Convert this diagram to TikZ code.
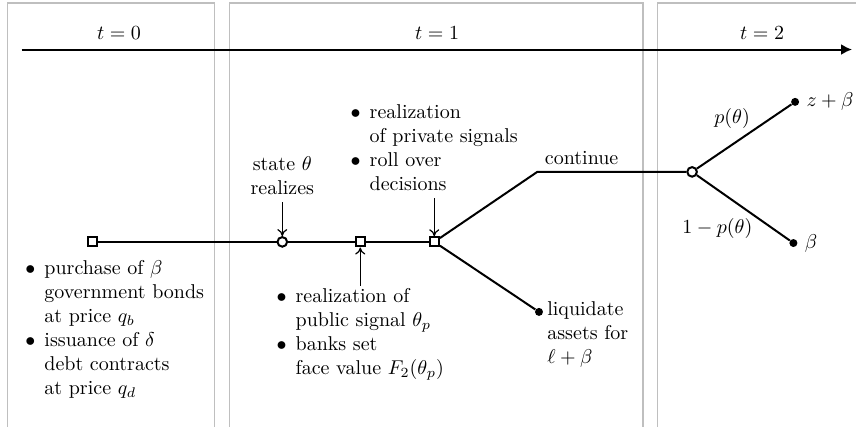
\documentclass[tikz,border=0pt]{standalone}
\usepackage{amsmath}
\usepackage{amssymb}
\usetikzlibrary{arrows.meta}
\usetikzlibrary{positioning}

\begin{document}
\begin{tikzpicture}[
  period/.style={draw=black!25, line width=0.75pt},
  decision/.style={rectangle, draw, line width=1pt, fill=white, minimum size=4.6pt, inner sep=0pt},
  chance/.style={circle, draw, line width=1pt, fill=white, minimum size=4.8pt, inner sep=0pt},
  payoff/.style={circle, fill, minimum size=4pt, inner sep=0pt},
  branch/.style={line width=1pt},
  pointer/.style={semithick, -{To[length=3.5pt,width=5pt]}},
  textlist/.style={inner sep=0pt}
]
\clip (0,0) rectangle (15.04,-7.50);

% the three dates
\draw[period] (0.13,-0.05) rectangle (3.77,-8);
\draw[period] (4.03,-0.05) rectangle (11.30,-8);
\draw[period] (11.55,-0.05) rectangle (15.40,-8);

\coordinate (tstart) at (0.38,-0.87);
\coordinate (tend) at (14.97,-0.87);
\draw[line width=1pt, -{Latex[length=5.5pt,width=5.5pt]}] (tstart) -- (tend);

\node[anchor=base] (date0) at (2.09,-0.70) {$t=0$};
\node[anchor=base] (date1) at (7.68,-0.70) {$t=1$};
\node[anchor=base] (date2) at (13.39,-0.70) {$t=2$};

% tree
\node[decision] (invest) at (1.63,-4.25) {};
\node[chance] (state) at (4.96,-4.25) {};
\node[decision] (public) at (6.33,-4.25) {};
\node[decision] (rollover) at (7.63,-4.25) {};
\coordinate (bend) at (9.44,-3.02);
\node[payoff] (liquidate) at (9.47,-5.48) {};
\node[chance] (success) at (12.16,-3.02) {};
\node[payoff] (high) at (13.97,-1.79) {};
\node[payoff] (low) at (13.94,-4.27) {};

\draw[branch] (invest) -- (state) -- (public) -- (rollover);
\draw[branch] (rollover) -- (bend) -- node[pos=0, above right] (cont) {continue} (success);
\draw[branch] (rollover) -- (liquidate);
\draw[branch] (success) -- node[above, xshift=-6pt] (prob) {$p(\theta)$} (high);
\draw[branch] (success) -- node[below, xshift=-13pt, yshift=-1.5pt] (cprob) {$1-p(\theta)$} (low);

\node[right=0pt of high] (highval) {$z+\beta$};
\node[right=0pt of low] (lowval) {$\beta$};

% descriptions
\node[textlist, anchor=north west] (t0list) at (0.44,-4.52) {%
  \begin{tabular}{@{}l@{\hspace{4.5pt}}l@{}}
  $\bullet$ & purchase of $\beta$\\
   & government bonds\\
   & at price $q_b$\\
  $\bullet$ & issuance of $\delta$\\
   & debt contracts\\
   & at price $q_d$
  \end{tabular}};

\node[textlist, above=17pt of state] (statelab) {%
  \begin{tabular}{@{}c@{}}state $\theta$\\realizes\end{tabular}};
\draw[pointer] (statelab) -- (state);

\node[textlist, below=19pt of public] (publab) {%
  \begin{tabular}{@{}l@{\hspace{4.5pt}}l@{}}
  $\bullet$ & realization of\\
   & public signal $\theta_p$\\
  $\bullet$ & banks set\\
   & face value $F_2(\theta_p)$
  \end{tabular}};
\draw[pointer] (publab) -- (public);

\node[textlist, above=19pt of rollover] (privlab) {%
  \begin{tabular}{@{}l@{\hspace{4.5pt}}l@{}}
  $\bullet$ & realization\\
   & of private signals\\
  $\bullet$ & roll over\\
   & decisions
  \end{tabular}};
\draw[pointer] (privlab) -- (rollover);

\node[textlist, anchor=north west] (liqlab) at (9.61,-5.24) {%
  \begin{tabular}{@{}l@{}}liquidate\\assets for\\$\ell+\beta$\end{tabular}};

\end{tikzpicture}
\end{document}
